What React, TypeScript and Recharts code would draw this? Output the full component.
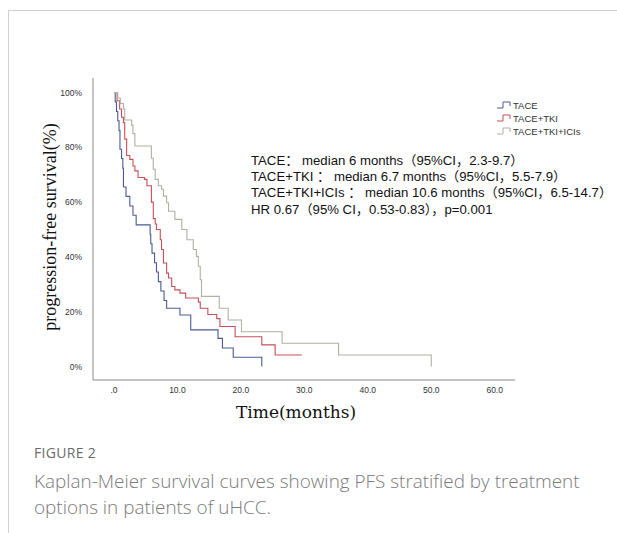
import React from "react";
import { LineChart, Line, XAxis, YAxis } from "recharts";

const seriesNames = ["TACE", "TACE+TKI", "TACE+TKI+ICIs"];
const seriesColors = ["#4a5b93", "#c64f58", "#adb2a1"];

const taceT = [0, 0.2, 0.4, 0.6, 0.8, 0.95, 1.2, 1.4, 1.5, 1.9, 2.5, 3.0, 3.5, 5.7, 5.8, 6.0, 6.4, 6.7, 7.0, 7.4, 7.9, 8.3, 10.4, 12.1, 16.4, 17.1, 18.8, 23.3];
const taceS = [100, 96.6, 93.1, 89.7, 86.2, 79.3, 75.9, 72.4, 65.5, 62.1, 58.6, 55.2, 51.7, 48.3, 44.8, 41.4, 37.9, 34.5, 31.0, 27.6, 24.1, 21.3, 18.8, 13.4, 10.3, 6.8, 3.4, 0];

const tkiT = [0, 0.5, 0.9, 1.2, 1.5, 1.7, 2.0, 2.5, 3.0, 3.3, 3.8, 4.8, 5.2, 5.9, 6.2, 6.5, 6.7, 7.3, 7.5, 7.8, 8.3, 8.6, 9.1, 9.6, 10.4, 11.3, 13.3, 13.6, 14.8, 16.2, 16.7, 19.1, 23.3, 25.4, 29.6];
const tkiS = [100, 97, 94, 91, 89, 83, 77, 75.6, 73.2, 71.4, 69, 68.3, 66, 60, 54, 52, 50, 46.3, 42.7, 37.8, 34.1, 32.3, 29.2, 28, 26.8, 25, 23.5, 21.3, 19, 17.5, 14.6, 10.9, 7.9, 4.2, 4.2];

const iciT = [0, 0.6, 1.0, 1.5, 1.7, 2.8, 3.0, 3.3, 5.9, 6.2, 6.5, 7.0, 7.5, 7.8, 8.3, 8.6, 9.6, 10.7, 11.5, 12.5, 13.0, 13.3, 13.6, 13.8, 16.6, 18.0, 20.1, 26.5, 35.4, 50];
const iciS = [100, 98, 96, 94, 90, 88, 85, 80.5, 76, 72, 68.3, 66, 64.7, 62.2, 59.8, 56.7, 53.7, 50, 46.3, 42.7, 40.2, 36.6, 31.7, 25.6, 21.3, 17, 12.7, 8.5, 4.2, 0];

const xTicks = [0, 10, 20, 30, 40, 50, 60];
const yTicks = [0, 20, 40, 60, 80, 100];

const annotationLines = [
  "TACE： median 6 months（95%CI，2.3-9.7）",
  "TACE+TKI ： median 6.7 months（95%CI，5.5-7.9）",
  "TACE+TKI+ICIs ： median 10.6 months（95%CI，6.5-14.7）",
  "HR 0.67（95% CI，0.53-0.83），p=0.001",
];

const yTitle = "progression-free survival(%)";
const xTitle = "Time(months)";
const figureLabel = "FIGURE 2";
const captionLines = [
  "Kaplan-Meier survival curves showing PFS stratified by treatment",
  "options in patients of uHCC.",
];

const toRows = (ts: number[], ss: number[]) => ts.map((t, i) => ({ t, s: ss[i] }));
const seriesData = [toRows(taceT, taceS), toRows(tkiT, tkiS), toRows(iciT, iciS)];

const fmtX = (v: number) => (v === 0 ? ".0" : v.toFixed(1));
const fmtY = (v: number) => `${v}%`;

export default function App() {
  return (
    <div style={{ position: "absolute", left: 0, top: 0, width: 617, height: 533, background: "#fff", overflow: "hidden" }}>
      <div style={{ position: "absolute", left: 8, top: 10, width: 640, height: 560, borderTop: "1px solid #d0d0d0", borderLeft: "1px solid #d0d0d0" }} />
      <div style={{ position: "absolute", left: 0, top: 0 }}>
        <LineChart width={617} height={533} margin={{ top: 78, right: 102, bottom: 123, left: 0 }}>
          <XAxis
            type="number"
            dataKey="t"
            domain={[-3.3, 63.2]}
            ticks={xTicks}
            tickFormatter={fmtX}
            allowDuplicatedCategory={false}
            height={30}
            stroke="#8a8a8a"
            tickLine={false}
            tickMargin={1}
            tick={{ fontSize: 8.5, fill: "#333", fontFamily: "Liberation Sans, Arial" }}
          />
          <YAxis
            type="number"
            domain={[-4.9, 105.3]}
            ticks={yTicks}
            tickFormatter={fmtY}
            width={93}
            stroke="#8a8a8a"
            tickLine={false}
            tickMargin={5}
            tick={{ fontSize: 8.5, fill: "#333", fontFamily: "Liberation Sans, Arial" }}
          />
          {seriesData.map((d, i) => (
            <Line
              key={seriesNames[i]}
              data={d}
              dataKey="s"
              name={seriesNames[i]}
              type="stepAfter"
              stroke={seriesColors[i]}
              strokeWidth={1.1}
              dot={false}
              activeDot={false}
              isAnimationActive={false}
            />
          ))}
        </LineChart>
      </div>
      <svg width={617} height={533} style={{ position: "absolute", left: 0, top: 0 }}>
        <text x={50} y={227} transform="rotate(-90 50 227)" textAnchor="middle" dominantBaseline="central" fontFamily="Liberation Serif, serif" fontSize={18} fill="#111">
          {yTitle}
        </text>
        <text x={296} y={412} textAnchor="middle" dominantBaseline="central" fontFamily="DejaVu Serif, serif" fontSize={17} fill="#111">
          {xTitle}
        </text>
        {annotationLines.map((l, i) => (
          <text key={i} x={251} y={160 + i * 16.4} dominantBaseline="central" fontFamily="Liberation Sans, 'Noto Sans CJK SC', sans-serif" fontSize={13.2} fill="#111">
            {l}
          </text>
        ))}
        {seriesNames.map((n, i) => {
          const y = 105 + i * 13;
          return (
            <g key={n}>
              <path d={`M497 ${y + 3} H503 V${y - 3} H510 V${y + 1}`} fill="none" stroke={seriesColors[i]} strokeWidth={1} />
              <text x={513} y={y} dominantBaseline="central" fontFamily="Liberation Sans, Arial" fontSize={9.5} fill="#333">
                {n}
              </text>
            </g>
          );
        })}
      </svg>
      <div style={{ position: "absolute", left: 34, top: 443, fontFamily: "'Open Sans', sans-serif", fontSize: 14, color: "#6b6b6b", letterSpacing: 0.3 }}>
        {figureLabel}
      </div>
      {captionLines.map((l, i) => (
        <div key={i} style={{ position: "absolute", left: 34, top: 468 + i * 26, whiteSpace: "nowrap", fontFamily: "'Open Sans', sans-serif", fontSize: 18.9, lineHeight: "26px", color: "#7a7a7a", fontWeight: 300 }}>
          {l}
        </div>
      ))}
    </div>
  );
}
